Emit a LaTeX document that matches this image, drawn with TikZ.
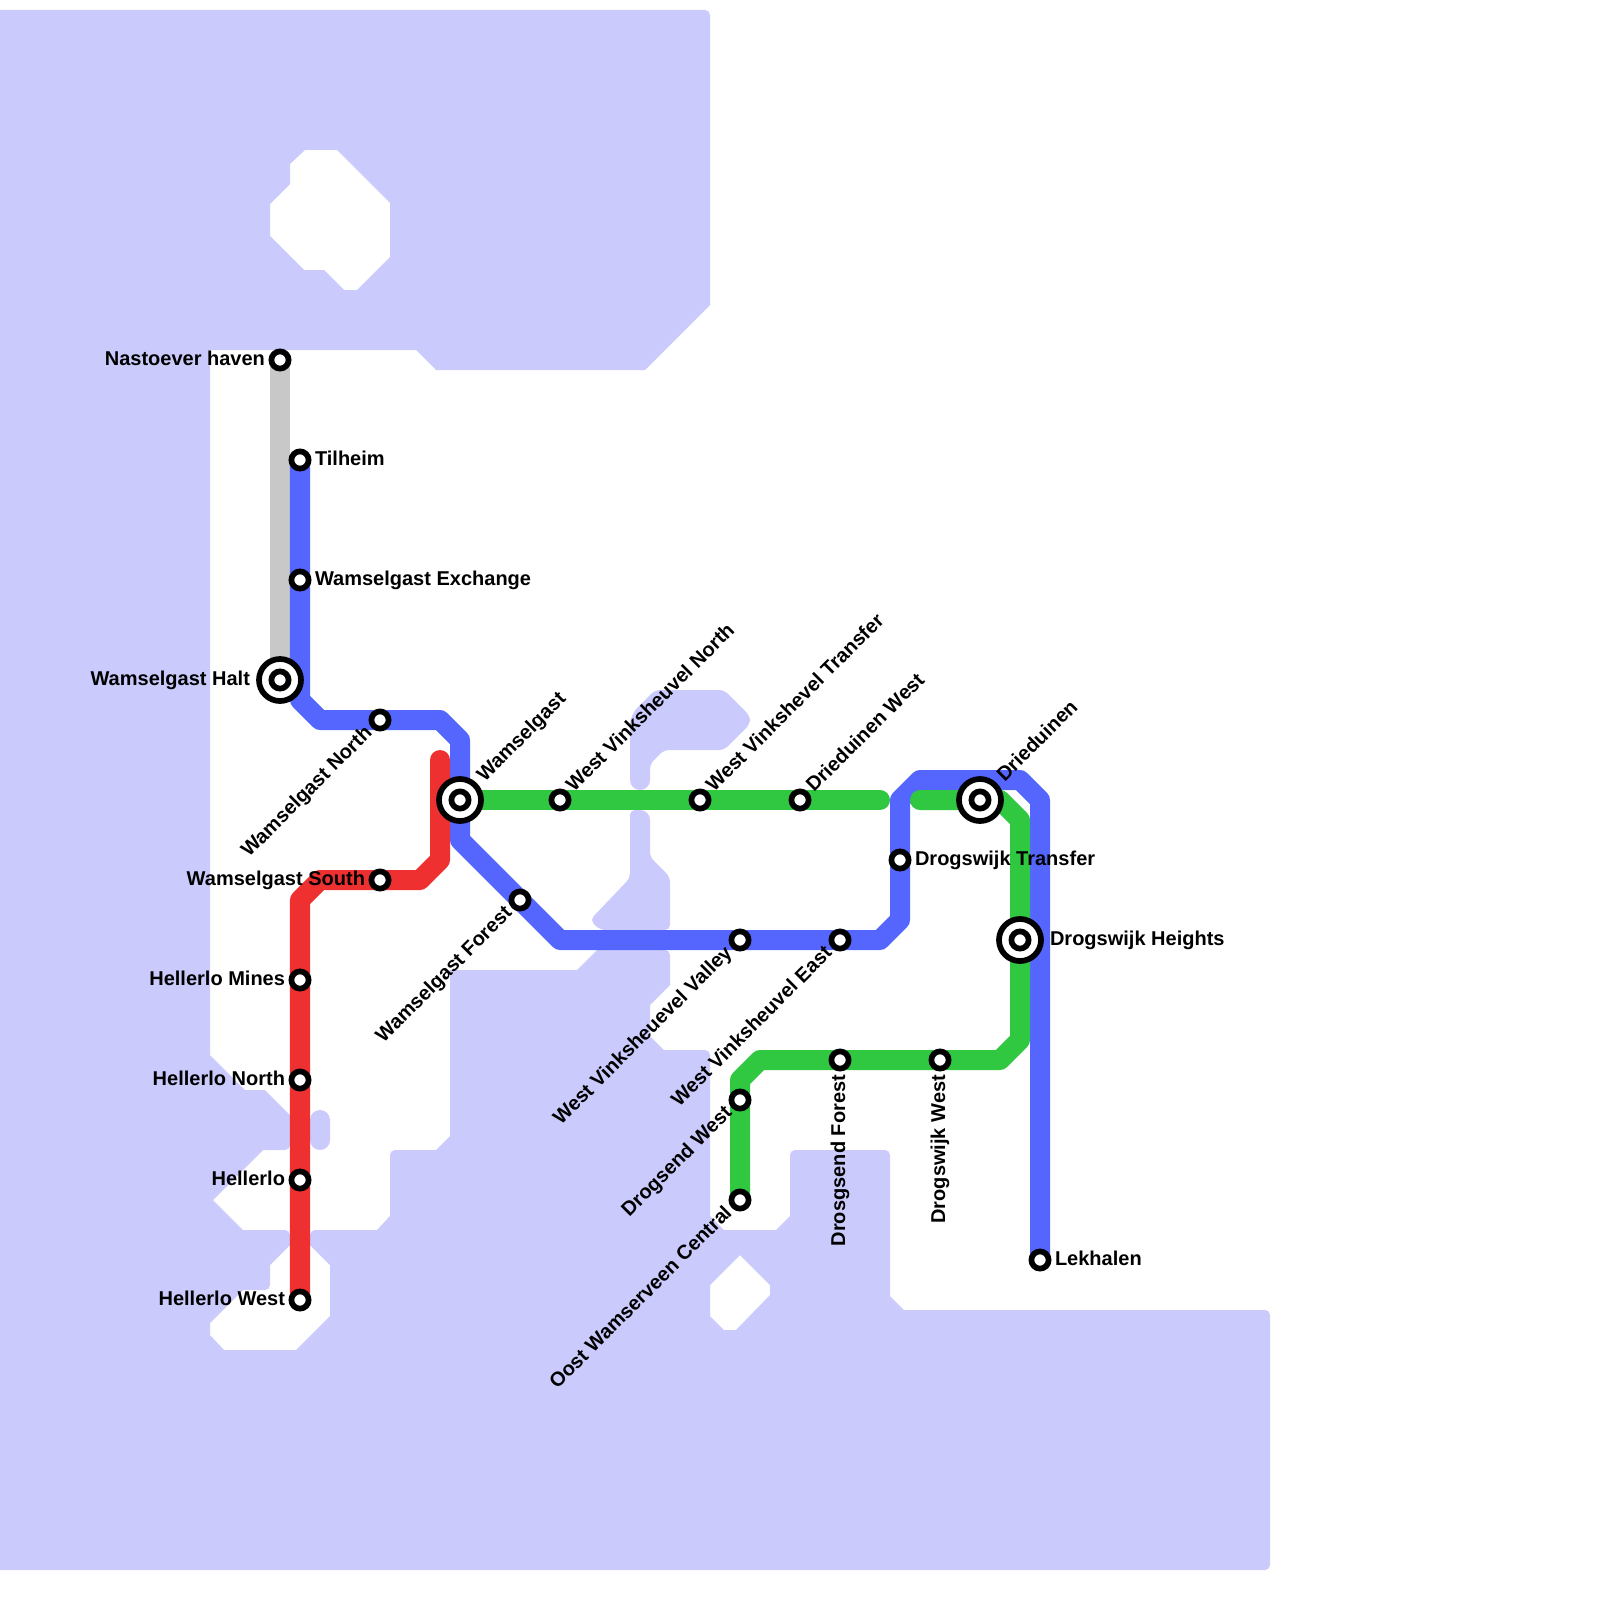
\documentclass[tikz,border=0pt]{standalone}
\usepackage{fontspec}
\setmainfont{Liberation Sans}
\usetikzlibrary{backgrounds}
\definecolor{waterc}{HTML}{CACAFC}
\definecolor{bluec}{HTML}{5566FF}
\definecolor{redc}{HTML}{EE3030}
\definecolor{greenc}{HTML}{30C840}
\definecolor{greyc}{HTML}{C8C8C8}
\begin{document}
\begin{tikzpicture}[
	x=0.01cm, y=-0.01cm,
	station/.style={ circle, draw=black, fill=white, line width=0.057cm, inner sep=0pt, minimum size=0.172cm, outer sep=0.064cm },
	bigstation/.style={ station, minimum size=0.42cm, outer sep=0.09cm },
	every label/.style={ font=\fontsize{5.69pt}{7pt}\selectfont\bfseries, inner sep=0pt, outer sep=0pt, text height=0.15cm, text depth=0.05cm },
	upl/.style={ rotate=45, anchor=west },
	downl/.style={ rotate=45, anchor=east },
	vertl/.style={ rotate=90, anchor=east },
	rail/.style={ line width=0.2cm, line cap=round, line join=round },
	rc/.style={ rounded corners=0.05cm },
	sc/.style={ sharp corners }
]

\useasboundingbox (0,0) rectangle (1600,1600);

\node at (280,360) (nastoever) [station,label=left:Nastoever haven] {};
\node at (300,460) (tilheim) [station,label=right:Tilheim] {};
\node at (300,580) (exchange) [station,label=right:Wamselgast Exchange] {};
\node at (280,680) (halt) [bigstation,label=left:Wamselgast Halt] {};
\node at (280,680) (haltc) [station] {};
\node at (380,720) (wnorth) [station,label={[downl]below left:Wamselgast North}] {};
\node at (460,800) (wamselgast) [bigstation,label={[upl]above right:Wamselgast}] {};
\node at (460,800) (wamselgastc) [station] {};
\node at (560,800) (vnorth) [station,label={[upl]above right:West Vinksheuvel North}] {};
\node at (700,800) (vtransfer) [station,label={[upl]above right:West Vinkshevel Transfer}] {};
\node at (800,800) (dwest) [station,label={[upl]above right:Drieduinen West}] {};
\node at (980,800) (drieduinen) [bigstation,label={[upl]above right:Drieduinen}] {};
\node at (980,800) (drieduinenc) [station] {};
\node at (900,860) (dtransfer) [station,label=right:Drogswijk Transfer] {};
\node at (1020,940) (heights) [bigstation,label=right:Drogswijk Heights] {};
\node at (1020,940) (heightsc) [station] {};
\node at (1040,1260) (lekhalen) [station,label=right:Lekhalen] {};
\node at (380,880) (wsouth) [station,label=left:Wamselgast South] {};
\node at (520,900) (wforest) [station,label={[downl]below left:Wamselgast Forest}] {};
\node at (740,940) (vvalley) [station,label={[downl]below left:West Vinksheuevel Valley}] {};
\node at (840,940) (veast) [station,label={[downl]below left:West Vinksheuvel East}] {};
\node at (300,980) (hmines) [station,label=left:Hellerlo Mines] {};
\node at (300,1080) (hnorth) [station,label=left:Hellerlo North] {};
\node at (300,1180) (hellerlo) [station,label=left:Hellerlo] {};
\node at (300,1300) (hwest) [station,label=left:Hellerlo West] {};
\node at (840,1060) (dforest) [station,label={[vertl]below:Drosgsend Forest}] {};
\node at (940,1060) (dwwest) [station,label={[vertl]below:Drogswijk West}] {};
\node at (740,1100) (dsend) [station,label={[downl]below left:Drogsend West}] {};
\node at (740,1200) (oost) [station,label={[downl]below left:Oost Wamserveen Central}] {};

\coordinate (b1) at (300,700);
\coordinate (b2) at (320,720);
\coordinate (b3) at (440,720);
\coordinate (b4) at (460,740);
\coordinate (b5) at (460,840);
\coordinate (b6) at (560,940);
\coordinate (b7) at (880,940);
\coordinate (b8) at (900,920);
\coordinate (b9) at (900,800);
\coordinate (b10) at (920,780);
\coordinate (b11) at (1020,780);
\coordinate (b12) at (1040,800);
\coordinate (r1) at (440,760);
\coordinate (r2) at (440,860);
\coordinate (r3) at (420,880);
\coordinate (r4) at (320,880);
\coordinate (r5) at (300,900);
\coordinate (g1) at (880,800);
\coordinate (g2) at (920,800);
\coordinate (g3) at (1000,800);
\coordinate (g4) at (1020,820);
\coordinate (g5) at (1020,1040);
\coordinate (g6) at (1000,1060);
\coordinate (g7) at (760,1060);
\coordinate (g8) at (740,1080);

\begin{scope}[on background layer]
\fill[waterc,even odd rule] (0,10) [rc] -- (710,10) [sc] -- (710,305) -- (645,370) -- (436,370) -- (416,350) -- (210,350) -- (210,1055) -- (245,1090) -- (265,1090) -- (290,1115) [rc] -- (290,1150) [sc] -- (263,1150) -- (213,1200) -- (243,1230) [rc] -- (290,1230) [sc] -- (290,1245) -- (270,1265) [rc] -- (270,1290) [sc] -- (243,1290) -- (210,1323) -- (210,1335) -- (224,1350) -- (296,1350) -- (330,1316) -- (330,1265) -- (310,1245) [rc] -- (310,1230) [sc] -- (377,1230) -- (390,1216) [rc] -- (390,1150) [sc] -- (436,1150) -- (450,1136) -- (450,970) -- (577,970) -- (597,950) [rc] -- (670,950) [sc] -- (670,985) -- (650,1005) -- (650,1036) -- (664,1050) [rc] -- (710,1050) [sc] -- (710,1216) -- (724,1230) -- (776,1230) -- (790,1216) [rc] -- (790,1150) -- (890,1150) [sc] -- (890,1296) -- (904,1310) [rc] -- (1270,1310) -- (1270,1570) [sc] -- (0,1570) -- cycle
	(305,150) -- (337,150) -- (390,203) -- (390,257) -- (357,290) -- (344,290) -- (324,270) -- (304,270) -- (270,236) -- (270,204) -- (290,184) -- (290,164) -- cycle
	(740,1255) -- (770,1285) -- (770,1295) -- (736,1330) -- (724,1330) -- (710,1316) -- (710,1285) -- cycle
	[rc] (630,715) -- (655,690) -- (724,690) -- (750,716) -- (750,724) -- (724,750) -- (664,750) -- (650,764) [rounded corners=0.1cm] -- (650,790) -- (630,790) -- cycle
	(630,810) -- (650,810) [rc] -- (650,857) -- (670,877) -- (670,930) -- (600,930) -- (590,920) -- (630,878) -- cycle
	[rounded corners=0.1cm] (310,1110) -- (330,1110) -- (330,1150) -- (310,1150) -- cycle;
\draw[rail,greyc] (nastoever.center) -- (halt.center);
\draw[rail,bluec] (tilheim.center) -- (exchange.center) -- (b1) -- (b2) -- (wnorth.center) -- (b3) -- (b4) -- (wamselgast.center) -- (b5) -- (wforest.center) -- (b6) -- (vvalley.center) -- (veast.center) -- (b7) -- (b8) -- (dtransfer.center) -- (b9) -- (b10) -- (b11) -- (b12) -- (lekhalen.center);
\draw[rail,redc] (r1) -- (r2) -- (r3) -- (wsouth.center) -- (r4) -- (r5) -- (hmines.center) -- (hnorth.center) -- (hellerlo.center) -- (hwest.center);
\draw[rail,greenc] (wamselgast.center) -- (vnorth.center) -- (vtransfer.center) -- (dwest.center) -- (g1);
\draw[rail,greenc] (g2) -- (drieduinen.center) -- (g3) -- (g4) -- (heights.center) -- (g5) -- (g6) -- (dwwest.center) -- (dforest.center) -- (g7) -- (g8) -- (dsend.center) -- (oost.center);
\end{scope}

\end{tikzpicture}
\end{document}
